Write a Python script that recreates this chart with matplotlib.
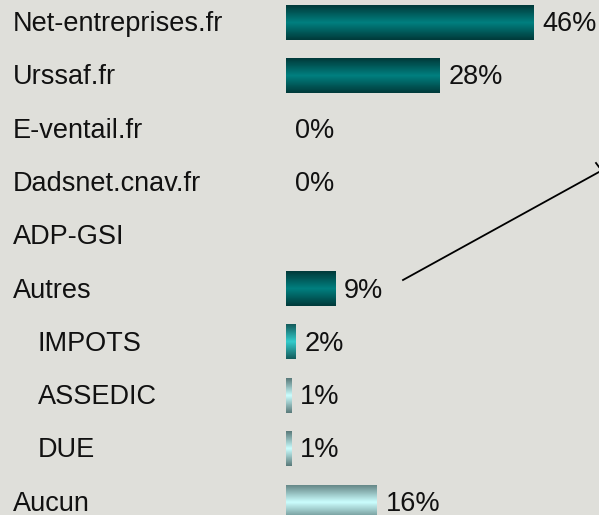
import numpy as np
import matplotlib
matplotlib.use('Agg')
import matplotlib.pyplot as plt
from matplotlib.colors import LinearSegmentedColormap
from matplotlib.transforms import blended_transform_factory

labels = ['Net-entreprises.fr', 'Urssaf.fr', 'E-ventail.fr', 'Dadsnet.cnav.fr', 'ADP-GSI',
          'Autres', 'IMPOTS', 'ASSEDIC', 'DUE', 'Aucun']
# valeurs lues sur les barres (non arrondies) et libellés affichés
values = [45.9, 28.4, 0, 0, None, 9.1, 1.85, 0.93, 0.93, 16.8]
value_labels = ['46%', '28%', '0%', '0%', '', '9%', '2%', '1%', '1%', '16%']
indent = [False, False, False, False, False, False, True, True, True, False]
# couleur du bord / du centre pour chaque barre
edge_colors = ['#003a3a', '#003a3a', '#003a3a', '#003a3a', '#003a3a',
               '#003a3a', '#145c5c', '#5a7a7a', '#5a7a7a', '#668888']
mid_colors = ['#008080', '#008080', '#008080', '#008080', '#008080',
              '#008080', '#33cccc', '#ccffff', '#ccffff', '#ccffff']

bg = '#dfdfda'
fig = plt.figure(figsize=(5.99, 5.15), dpi=100, facecolor=bg)
ax = fig.add_axes([0, 0, 1, 1])
ax.set_facecolor(bg)

px_per_pct = 5.4
x0 = 286
row_h = 53.3
y0 = 22.5
bar_h = 0.64

grad = np.linspace(0, 1, 64).reshape(-1, 1)
for i, v in enumerate(values):
    if v:
        cmap = LinearSegmentedColormap.from_list('g%d' % i, [edge_colors[i], mid_colors[i], edge_colors[i]])
        ax.imshow(grad, cmap=cmap, aspect='auto', interpolation='bilinear',
                  extent=(0, v, i + bar_h / 2, i - bar_h / 2), zorder=2)
    if v is not None:
        ax.text(v + 9 / px_per_pct, i + 0.03, value_labels[i], fontsize=19.5, family='Liberation Sans',
                va='center', ha='left', color='#111111')

trans = blended_transform_factory(ax.transAxes, ax.transData)
for i, lab in enumerate(labels):
    xl = (38 if indent[i] else 13) / 599
    ax.text(xl, i + 0.03, lab, transform=trans, fontsize=19.5, family='Liberation Sans',
            va='center', ha='left', color='#111111')

ax.set_xlim(-x0 / px_per_pct, (599 - x0) / px_per_pct)
ax.set_ylim((515 - y0) / row_h, -y0 / row_h)
ax.axis('off')

# trait de renvoi vers la droite
fig.add_artist(plt.Line2D([403 / 599, 1.0], [1 - 280 / 515, 1 - 172 / 515], color='black', lw=1.3))
fig.add_artist(plt.Line2D([596 / 599, 599 / 599], [1 - 163 / 515, 1 - 167 / 515], color='black', lw=1.3))

fig.savefig('out.png', dpi=100, facecolor=bg)
